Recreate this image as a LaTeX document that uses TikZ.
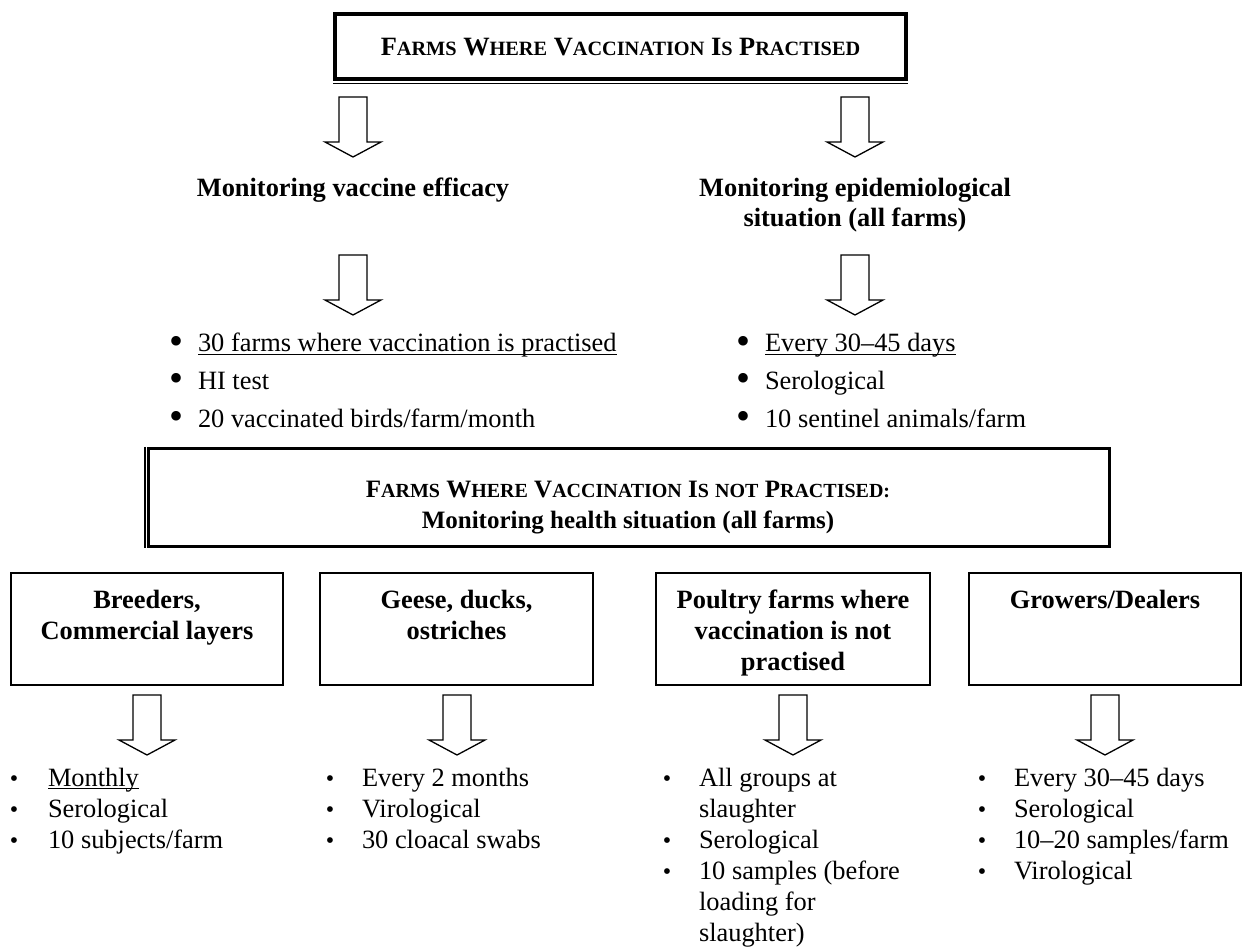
\documentclass[tikz,border=0pt]{standalone}
\usepackage{fontspec}
\setmainfont{Liberation Serif}
\newcommand\smc[1]{{\fontsize{20.3}{24}\selectfont #1}}
\newcommand\smm[1]{{\fontsize{20}{24}\selectfont #1}}
\newcommand\wul[1]{\setbox0\hbox{#1}\rlap{\rule[-3.2pt]{\wd0}{1.3pt}}\box0}
\begin{document}
\begin{tikzpicture}[x=1pt,y=-1pt,
  bodytext/.style={font=\fontsize{26.4}{30}\selectfont, inner sep=0pt, outer sep=0pt, anchor=base west},
  headtext/.style={font=\fontsize{26.4}{30}\selectfont\bfseries, inner sep=0pt, outer sep=0pt, anchor=base},
  midtext/.style={font=\fontsize{25}{29}\selectfont\bfseries, inner sep=0pt, outer sep=0pt, anchor=base},
  bigdot/.style={font=\fontsize{40}{40}\selectfont, inner sep=0pt, outer sep=0pt, anchor=base},
  smalldot/.style={font=\fontsize{24}{24}\selectfont, inner sep=0pt, outer sep=0pt, anchor=base},
  catbox/.style={draw, line width=2.5pt, inner sep=0pt, outer sep=0pt, minimum height=112pt},
  blockarrow/.style={draw, fill=white, line width=1.3pt, line join=miter},
  darrow/.pic={\path[blockarrow] (-14,0) -- (14,0) -- (14,45) -- (28,45) -- (0,60) -- (-28,45) -- (-14,45) -- cycle;}
]
\path[use as bounding box, fill=white] (0,0) rectangle (1244,949);

% ---------- top box ----------
\node[draw, line width=4pt, inner sep=0pt, outer sep=0pt, minimum width=571pt, minimum height=65.5pt] (topbox) at (620.5,46.75) {};
\draw[line width=1.2pt] ([xshift=-2pt,yshift=-4pt]topbox.south west) -- ([xshift=2pt,yshift=-4pt]topbox.south east);
\node[headtext] (toptitle) at (620.5,56) {F\smc{ARMS} W\smc{HERE} V\smc{ACCINATION} I\smc{S} P\smc{RACTISED}};

\pic at (353,97) {darrow};
\pic at (855,97) {darrow};

\node[headtext] (lhead) at (353,197) {Monitoring vaccine efficacy};
\node[headtext] (rhead1) at (855,197) {Monitoring epidemiological};
\node[headtext] (rhead2) at (855,227) {situation (all farms)};

\pic at (353,255) {darrow};
\pic at (855,255) {darrow};

% left upper list
\node[bigdot] (ld1) at (176,354) {•};
\node[bigdot] (ld2) at (176,391.5) {•};
\node[bigdot] (ld3) at (176,429) {•};
\node[bodytext] (lt1) at (198,352) {\wul{30 farms where vaccination is practised}};
\node[bodytext] (lt2) at (198,389.5) {HI test};
\node[bodytext] (lt3) at (198,427) {20 vaccinated birds/farm/month};

% right upper list
\node[bigdot] (rd1) at (743,354) {•};
\node[bigdot] (rd2) at (743,391.5) {•};
\node[bigdot] (rd3) at (743,429) {•};
\node[bodytext] (rt1) at (765,352) {\wul{Every 30–45 days}};
\node[bodytext] (rt2) at (765,389.5) {Serological};
\node[bodytext] (rt3) at (765,427) {10 sentinel animals/farm};

% ---------- middle box ----------
\node[draw, line width=3.5pt, inner sep=0pt, outer sep=0pt, minimum width=961pt, minimum height=98pt] (midbox) at (629,497.5) {};
\draw[line width=1.2pt] ([xshift=-3.5pt,yshift=1.75pt]midbox.north west) -- ([xshift=-3.5pt,yshift=-1.75pt]midbox.south west);
\node[midtext] (midtitle1) at (628,497) {F\smm{ARMS} W\smm{HERE} V\smm{ACCINATION} I\smm{S} \smm{NOT} P\smm{RACTISED:}};
\node[midtext] (midtitle2) at (628,528) {Monitoring health situation (all farms)};

% ---------- bottom boxes ----------
\node[catbox, minimum width=272pt] (box1) at (147,629) {};
\node[catbox, minimum width=273pt] (box2) at (456.5,629) {};
\node[catbox, minimum width=274pt] (box3) at (793,629) {};
\node[catbox, minimum width=272pt] (box4) at (1105,629) {};

\node[headtext] (b1a) at (147,608) {Breeders,};
\node[headtext] (b1b) at (147,639) {Commercial layers};
\node[headtext] (b2a) at (456.5,608) {Geese, ducks,};
\node[headtext] (b2b) at (456.5,639) {ostriches};
\node[headtext] (b3a) at (793,608) {Poultry farms where};
\node[headtext] (b3b) at (793,639) {vaccination is not};
\node[headtext] (b3c) at (793,670) {practised};
\node[headtext] (b4a) at (1105,608) {Growers/Dealers};

\pic at (147,695) {darrow};
\pic at (457,695) {darrow};
\pic at (793,695) {darrow};
\pic at (1105,695) {darrow};

% list 1
\node[smalldot] (d11) at (14,786) {•};
\node[smalldot] (d12) at (14,817) {•};
\node[smalldot] (d13) at (14,848) {•};
\node[bodytext] (t11) at (48,786) {\wul{Monthly}};
\node[bodytext] (t12) at (48,817) {Serological};
\node[bodytext] (t13) at (48,848) {10 subjects/farm};
% list 2
\node[smalldot] (d21) at (330,786) {•};
\node[smalldot] (d22) at (330,817) {•};
\node[smalldot] (d23) at (330,848) {•};
\node[bodytext] (t21) at (362,786) {Every 2 months};
\node[bodytext] (t22) at (362,817) {Virological};
\node[bodytext] (t23) at (362,848) {30 cloacal swabs};
% list 3
\node[smalldot] (d31) at (667,786) {•};
\node[smalldot] (d32) at (667,848) {•};
\node[smalldot] (d33) at (667,879) {•};
\node[bodytext] (t31) at (699,786) {All groups at};
\node[bodytext] (t31b) at (699,817) {slaughter};
\node[bodytext] (t32) at (699,848) {Serological};
\node[bodytext] (t33) at (699,879) {10 samples (before};
\node[bodytext] (t33b) at (699,910) {loading for};
\node[bodytext] (t33c) at (699,941) {slaughter)};
% list 4
\node[smalldot] (d41) at (982,786) {•};
\node[smalldot] (d42) at (982,817) {•};
\node[smalldot] (d43) at (982,848) {•};
\node[smalldot] (d44) at (982,879) {•};
\node[bodytext] (t41) at (1014,786) {Every 30–45 days};
\node[bodytext] (t42) at (1014,817) {Serological};
\node[bodytext] (t43) at (1014,848) {10–20 samples/farm};
\node[bodytext] (t44) at (1014,879) {Virological};
\end{tikzpicture}
\end{document}
